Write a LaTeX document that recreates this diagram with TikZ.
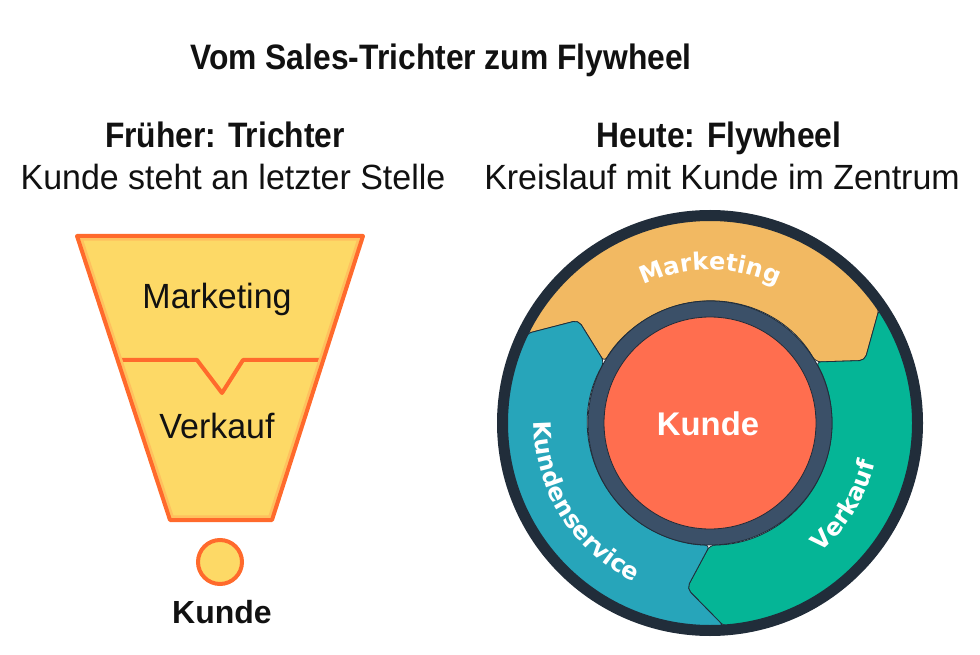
\documentclass[tikz,border=0pt]{standalone}
\usepackage{fontspec}
\setmainfont{Liberation Sans}[FakeStretch=0.97]
\newfontfamily\headfont{Liberation Sans}[FakeStretch=0.9]
\newfontfamily\plainsans{Liberation Sans}
\newfontfamily\wheelfont{DejaVu Sans}
\usetikzlibrary{decorations.text}

\definecolor{inktext}{HTML}{111111}
\definecolor{funnelfill}{HTML}{FDD966}
\definecolor{funnelband}{HTML}{FFC05E}
\definecolor{funnelorange}{HTML}{FF6A2C}
\definecolor{mktorange}{HTML}{F2B962}
\definecolor{salesgreen}{HTML}{05B596}
\definecolor{serviceteal}{HTML}{27A5BA}
\definecolor{rimdark}{HTML}{212D3A}
\definecolor{hubring}{HTML}{3B5068}
\definecolor{hubfill}{HTML}{FF6E4F}

\begin{document}
\begin{tikzpicture}[x=0.75pt, y=0.75pt,
    heading/.style = {anchor=base, text=inktext, font=\headfont\bfseries\fontsize{26.5}{30}\selectfont},
    subline/.style = {anchor=base, text=inktext, font=\fontsize{26.25}{30}\selectfont},
    stage/.style = {anchor=base, text=inktext, font=\fontsize{26.25}{30}\selectfont},
    edge/.style = {draw=funnelorange, line width=3pt, line join=round},
    section/.style = {draw=rimdark, line width=0.6pt, rounded corners=4pt},
    ringlabel/.style = {decorate, decoration={text along path, text align=center, text color=white,
        text={|\wheelfont\bfseries\fontsize{18}{20}\selectfont|#1}}}]
    \useasboundingbox (0,0) rectangle (980,-655);

    % headings
    \node[heading] (title) at (441,-70) {Vom Sales-Trichter zum Flywheel};
    \node[heading] (oldhead) at (225,-148) {Früher: Trichter};
    \node[subline] (oldsub) at (233,-190) {Kunde steht an letzter Stelle};
    \node[heading] (newhead) at (719,-148) {Heute: Flywheel};
    \node[subline] (newsub) at (722,-190) {Kreislauf mit Kunde im Zentrum};

    % funnel
    \coordinate (tl) at (77,-236);
    \coordinate (tr) at (363,-236);
    \coordinate (br) at (272,-520);
    \coordinate (bl) at (170,-520);
    \fill[funnelfill] (tl) -- (tr) -- (br) -- (bl) -- cycle;
    \draw[edge] (118,-360) -- (197,-360) -- (222,-393) -- (243,-360) -- (324,-360);
    \begin{scope}
        \clip (tl) -- (tr) -- (br) -- (bl) -- cycle;
        \draw[funnelband, line width=7pt] (tl) -- (tr) -- (br) -- (bl) -- cycle;
    \end{scope}
    \draw[edge] (tl) -- (tr) -- (br) -- (bl) -- cycle;
    \node[stage] (mkt) at (217,-309) {Marketing};
    \node[stage] (sales) at (217,-438) {Verkauf};
    \node[circle, draw=funnelorange, fill=funnelfill, line width=3pt, minimum size=33pt, inner sep=0pt] (drop) at (220,-562) {};
    \node[anchor=base, text=inktext, font=\plainsans\bfseries\fontsize{24}{28}\selectfont] (client) at (222,-623) {Kunde};

    % flywheel
    \begin{scope}[shift={(710,-423)}]
        \foreach \a/\c in {34/mktorange, -86/salesgreen, 154/serviceteal}
            \filldraw[section, fill=\c] (\a+120:204) arc[start angle=\a+120, end angle=\a, radius=204]
                -- (\a-12:167) -- (\a-4:122) arc[start angle=\a-4, end angle=\a+116, radius=122]
                -- (\a+108:167) -- cycle;
        \draw[rimdark, line width=8.25pt] (0,0) circle[radius=207.5];
        \filldraw[draw=rimdark, line width=0.6pt, fill=hubring] (0,0) circle[radius=122];
        \filldraw[draw=rimdark, line width=0.6pt, fill=hubfill] (0,0) circle[radius=106];
        \node[anchor=base, text=white, font=\plainsans\bfseries\fontsize{24.6}{28}\selectfont] (core) at (-2,-12) {Kunde};
        \path[ringlabel=Marketing] (130:153) arc[start angle=130, end angle=50, radius=153];
        \path[ringlabel=Verkauf] (-79:170) arc[start angle=-79, end angle=16, radius=170];
        \path[ringlabel=Kundenservice] (158:176) arc[start angle=158, end angle=266, radius=176];
    \end{scope}
\end{tikzpicture}
\end{document}
